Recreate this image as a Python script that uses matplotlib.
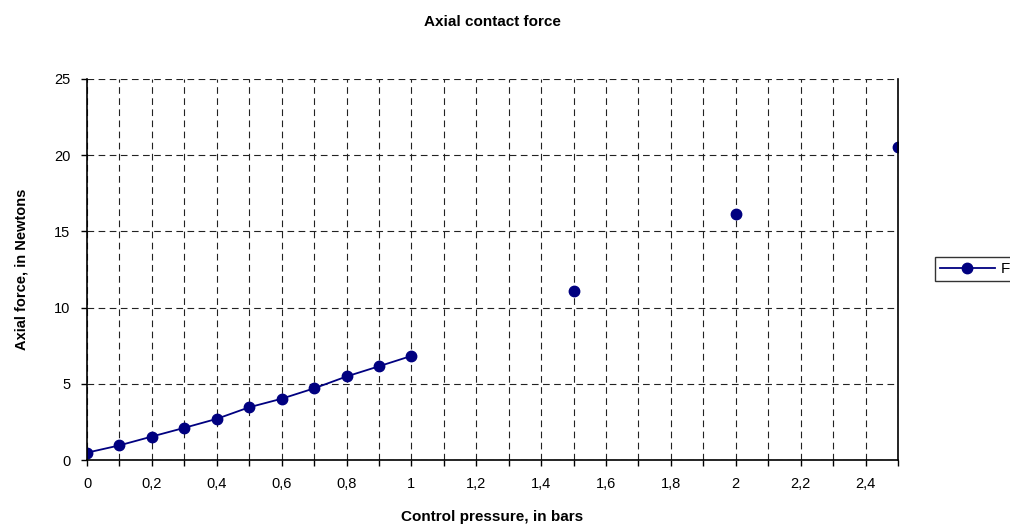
import matplotlib.pyplot as plt

plt.rcParams['font.family'] = ['Liberation Sans', 'DejaVu Sans']

# pressure (bars) and axial force (N)
pressure = [0, 0.1, 0.2, 0.3, 0.4, 0.5, 0.6, 0.7, 0.8, 0.9, 1.0, 1.5, 2.0, 2.5]
force = [0.48, 0.96, 1.54, 2.11, 2.70, 3.46, 4.02, 4.70, 5.48, 6.15, 6.83, 11.08, 16.17, 20.57]
n_joined = 11  # first points are joined by a line, the last ones are not

xticks = [i / 10 for i in range(26)]
xlabels = [("%g" % t).replace('.', ',') if i % 2 == 0 else '' for i, t in enumerate(xticks)]
yticks = [0, 5, 10, 15, 20, 25]

fig = plt.figure(figsize=(10.1, 5.27), dpi=100)
ax = fig.add_axes([87 / 1010, 1 - 460 / 527, 811 / 1010, 381 / 527])

navy = '#000080'
line, = ax.plot(pressure[:n_joined], force[:n_joined], '-o', color=navy, lw=1.3,
                markersize=7.5, label='F')
ax.plot(pressure[n_joined:], force[n_joined:], 'o', color=navy, markersize=7.5)

ax.set_xlim(0, 2.5)
ax.set_ylim(0, 25)
ax.set_xticks(xticks)
ax.set_xticklabels(xlabels)
ax.set_yticks(yticks)
ax.tick_params(direction='out', length=4, width=1, labelsize=10.5, pad=8)

ax.grid(True, color='#222222', lw=0.8, linestyle=(0, (6, 4)))
ax.set_axisbelow(True)
ax.spines['top'].set_visible(False)
for s in ['left', 'bottom', 'right']:
    ax.spines[s].set_linewidth(1.2)
    ax.spines[s].set_color('black')

ax.set_title("Axial contact force", fontsize=11, fontweight='bold', pad=38)
ax.set_xlabel("Control pressure, in bars", fontsize=11, fontweight='bold', labelpad=14)
ax.set_ylabel("Axial force, in Newtons", fontsize=10.5, fontweight='bold', labelpad=18)

fig.legend(handles=[line], loc='center left', bbox_to_anchor=(935 / 1010, 1 - 269 / 527),
           frameon=True, fancybox=False, edgecolor='black', fontsize=11,
           handlelength=3.6, handletextpad=0.4, borderpad=0.3, borderaxespad=0)

fig.savefig('out.png', dpi=100)
